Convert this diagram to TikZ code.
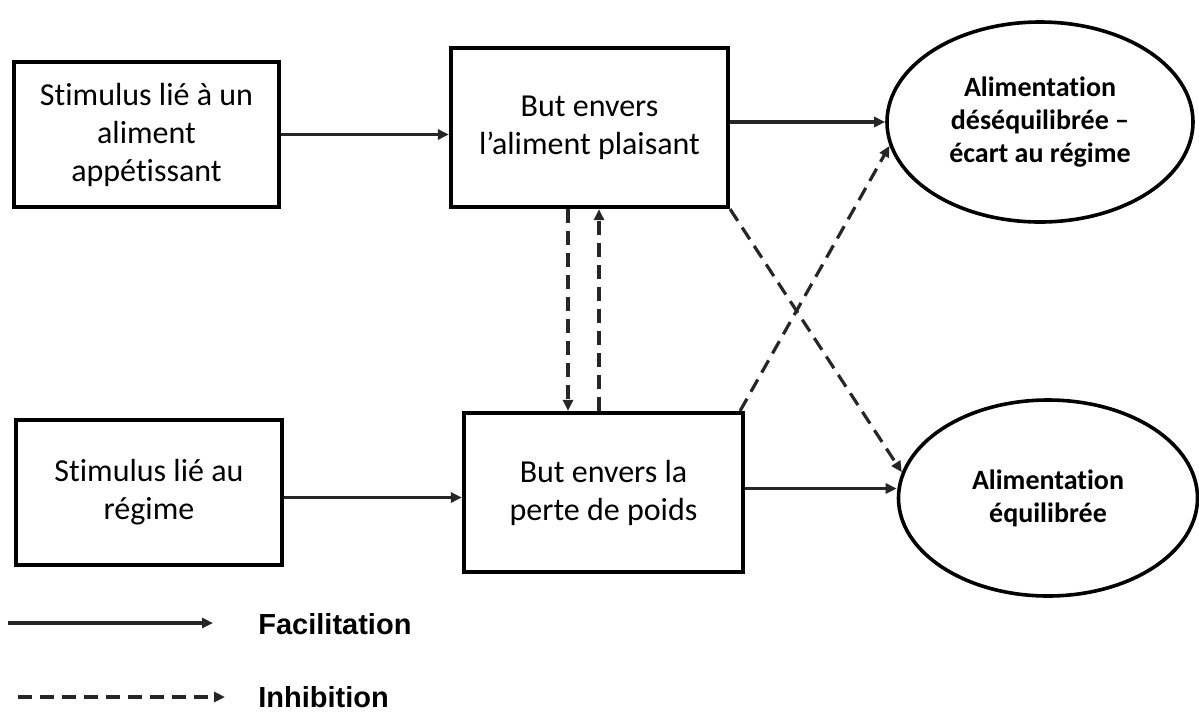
\documentclass[tikz,border=0pt]{standalone}
\usepackage{fontspec}
\setmainfont{Carlito}[Ligatures=NoCommon]
\newfontfamily\legendfont{Liberation Sans}
\usetikzlibrary{arrows.meta,shapes.geometric}

\begin{document}
\begin{tikzpicture}[x=0.5pt,y=-0.5pt,
  box/.style={draw=black, line width=2.1pt, rectangle, inner sep=0pt,
    align=center, font=\fontsize{16pt}{19pt}\selectfont},
  outcome/.style={draw=black, line width=1.8pt, ellipse, inner sep=0pt,
    align=center, font=\fontsize{14pt}{16.5pt}\selectfont\bfseries},
  fac/.style={draw=black!85, line width=1.6pt, -{Triangle[length=5.5pt,width=5pt]}},
  inh/.style={fac, dash pattern=on 7pt off 4pt},
  legendtext/.style={anchor=west, inner sep=0pt, font=\legendfont\bfseries\fontsize{14.5pt}{17pt}\selectfont}
]
\useasboundingbox (0,0) rectangle (1199,719);

% goal and stimulus boxes
\node[box, minimum width=132.5pt, minimum height=72.5pt] (s1) at (146.5,134.5)
  {Stimulus lié à un\\aliment\\appétissant};
\node[box, minimum width=138.5pt, minimum height=79.5pt] (g1) at (589.5,127.5)
  {But envers\\l’aliment plaisant};
\node[box, minimum width=133pt, minimum height=72.5pt] (s2) at (149,492.5)
  {Stimulus lié au\\régime};
\node[box, minimum width=139.5pt, minimum height=79.5pt] (g2) at (603.5,492.5)
  {But envers la\\perte de poids};

% eating outcomes
\node[outcome, minimum width=153pt, minimum height=100pt] (o1) at (1040,122)
  {Alimentation\\déséquilibrée –\\écart au régime};
\node[outcome, minimum width=149.5pt, minimum height=98pt] (o2) at (1048,498)
  {Alimentation\\équilibrée};

% facilitation links
\draw[fac] (s1.east) -- (s1.east -| g1.west);
\draw[fac] (g1.east |- o1) -- (o1.west);
\draw[fac] ([yshift=-2.5pt]s2.east) -- ([yshift=-2.5pt]s2.east -| g2.west);
\draw[fac] ([yshift=2pt]g2.east) -- ([yshift=2pt]g2.east -| o2.west);

% inhibition links
\coordinate (vdown) at (568,0);
\coordinate (vup) at (599,0);
\draw[inh] (vdown |- g1.south) -- (vdown |- g2.north);
\draw[inh] (vup |- g2.north) -- (vup |- g1.south);
\draw[inh] (g1.south east) -- (o2.170);
\draw[inh] ([xshift=-2.5pt]g2.north east) -- (o1.189);

% legend
\coordinate (fa) at (8,623);
\coordinate (fb) at (213,623);
\coordinate (ia) at (18,697);
\coordinate (ib) at (225,697);
\draw[fac] (fa) -- (fb);
\draw[inh] (ia) -- (ib);
\node[legendtext] (lf) at (258,624) {Facilitation};
\node[legendtext] (li) at (258,697) {Inhibition};
\end{tikzpicture}
\end{document}
